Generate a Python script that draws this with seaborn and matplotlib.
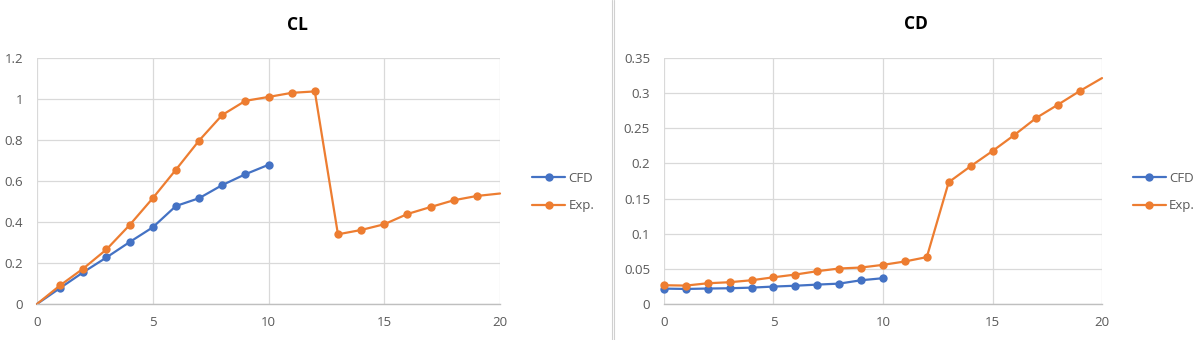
import matplotlib
matplotlib.use("Agg")
import matplotlib.pyplot as plt
from matplotlib.lines import Line2D
from matplotlib.ticker import FuncFormatter, MultipleLocator
import seaborn as sns
import pandas as pd

# ---- data ----
series_names = ["CFD", "Exp."]

cl_cfd_x = [0, 1, 2, 3, 4, 5, 6, 7, 8, 9, 10]
cl_cfd_y = [0.0, 0.078, 0.155, 0.227, 0.302, 0.374, 0.478, 0.516, 0.580, 0.633, 0.679]

cl_exp_x = list(range(0, 21))
cl_exp_y = [0.0, 0.091, 0.173, 0.266, 0.385, 0.516, 0.655, 0.797, 0.922, 0.991,
            1.010, 1.030, 1.037, 0.340, 0.361, 0.389, 0.439, 0.473, 0.506, 0.527, 0.539]

cd_cfd_x = [0, 1, 2, 3, 4, 5, 6, 7, 8, 9, 10]
cd_cfd_y = [0.0219, 0.0214, 0.0220, 0.0224, 0.0233, 0.0248, 0.0260, 0.0276, 0.0290, 0.0338, 0.0367]

cd_exp_x = list(range(0, 21))
cd_exp_y = [0.0267, 0.0262, 0.0295, 0.0310, 0.0338, 0.0380, 0.0419, 0.0467, 0.0505, 0.0519,
            0.0557, 0.0605, 0.0667, 0.1733, 0.1960, 0.2176, 0.2405, 0.2648, 0.2838, 0.3033, 0.3214]

titles = ["CL", "CD"]
colors = {"CFD": "#4472C4", "Exp.": "#ED7D31"}


def make_df(cfd_x, cfd_y, exp_x, exp_y):
    return pd.concat([
        pd.DataFrame({"x": cfd_x, "y": cfd_y, "series": "CFD"}),
        pd.DataFrame({"x": exp_x, "y": exp_y, "series": "Exp."}),
    ], ignore_index=True)


df_cl = make_df(cl_cfd_x, cl_cfd_y, cl_exp_x, cl_exp_y)
df_cd = make_df(cd_cfd_x, cd_cfd_y, cd_exp_x, cd_exp_y)

sns.set_theme(style="white")
plt.rcParams["font.family"] = ["Open Sans", "DejaVu Sans"]

W, H = 1204, 340
fig = plt.figure(figsize=(W / 100, H / 100), dpi=100)

ax_cl = fig.add_axes([37 / W, 1 - 304 / H, (500 - 37) / W, (304 - 58) / H])
ax_cd = fig.add_axes([664 / W, 1 - 304 / H, (1102 - 664) / W, (304 - 58) / H])

grid_c = "#D9D9D9"
tick_c = "#595959"


def fmt(v, pos):
    return f"{round(v, 4):g}"


def style(ax, ymax, ystep, df, marker_min):
    sns.lineplot(data=df, x="x", y="y", hue="series", hue_order=series_names,
                 palette=colors, marker="o", markersize=6, linewidth=1.6,
                 markeredgewidth=0, ax=ax, legend=True)
    for ln in ax.lines:
        xd = list(ln.get_xdata())
        ln.set_markevery([i for i, xv in enumerate(xd) if marker_min <= xv < 20])
        ln.set_solid_joinstyle("round")
        ln.set_clip_on(False)
    ax.set_xlim(0, 20)
    ax.set_ylim(0, ymax)
    ax.xaxis.set_major_locator(MultipleLocator(5))
    ax.yaxis.set_major_locator(MultipleLocator(ystep))
    ax.yaxis.set_major_formatter(FuncFormatter(fmt))
    ax.grid(True, color=grid_c, linewidth=0.9)
    ax.set_axisbelow(True)
    for s in ["top", "right", "left"]:
        ax.spines[s].set_visible(False)
    ax.spines["bottom"].set_color("#BFBFBF")
    ax.spines["bottom"].set_linewidth(1.0)
    ax.tick_params(axis="both", length=0, labelsize=9.5, colors=tick_c)
    ax.tick_params(axis="x", pad=9)
    ax.tick_params(axis="y", pad=10)
    ax.set_xlabel("")
    ax.set_ylabel("")
    leg = ax.legend(loc="center left", bbox_to_anchor=(1.07, 0.455), frameon=False,
                    fontsize=9.5, handlelength=2.5, handletextpad=0.25,
                    labelspacing=1.1, borderaxespad=0, borderpad=0)
    for t in leg.get_texts():
        t.set_color(tick_c)


style(ax_cl, 1.2, 0.2, df_cl, 1)
style(ax_cd, 0.35, 0.05, df_cd, 0)

fig.text(297 / W, 1 - 25 / H, titles[0], ha="center", va="center",
         fontsize=12.5, fontweight="bold", color="#000000")
fig.text(916 / W, 1 - 24 / H, titles[1], ha="center", va="center",
         fontsize=12.5, fontweight="bold", color="#000000")

# separator between the two chart objects
for xp in (611.7, 613.7):
    fig.add_artist(Line2D([xp / W, xp / W], [0, 1], transform=fig.transFigure,
                          color="#D0D0D0", linewidth=0.8))

fig.savefig("out.png", dpi=100)
